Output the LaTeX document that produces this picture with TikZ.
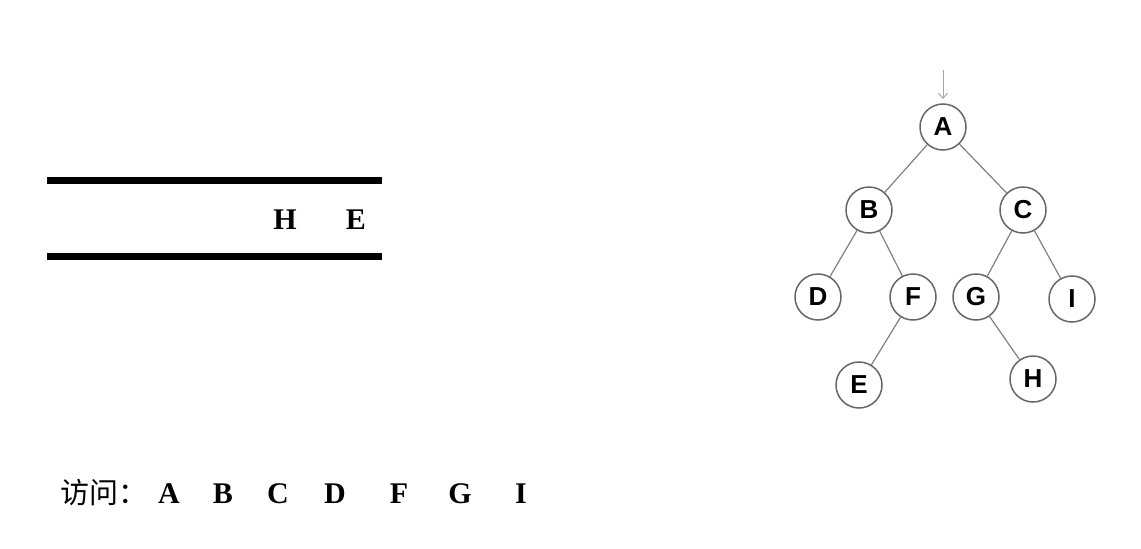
\documentclass[tikz,border=0pt]{standalone}
\usepackage{fontspec}
\usetikzlibrary{arrows.meta}
\setmainfont{Liberation Serif}
\newfontfamily\treefont{Liberation Sans}
\newfontfamily\cjk{Noto Sans CJK SC}
\begin{document}
\begin{tikzpicture}[x=1pt,y=-1pt,
  tnode/.style={circle,draw=black!60,line width=1.5pt,minimum size=46pt,inner sep=0pt,font=\treefont\bfseries\fontsize{26}{28}\selectfont},
  tedge/.style={draw=black!50,line width=1.2pt},
  bar/.style={line width=7pt},
  big/.style={font=\bfseries\fontsize{30}{32}\selectfont,anchor=base,inner sep=0pt}]
\useasboundingbox (0,0) rectangle (1141,549);
% stack
\draw[bar] (47,180) -- (382,180);
\draw[bar] (47,256.5) -- (382,256.5);
\node[big] (sh) at (285,229) {H};
\node[big] (se) at (356,229) {E};
% visit line
\node[anchor=base west,inner sep=0pt,font=\cjk\fontsize{29}{32}\selectfont] (v) at (60,503) {访问：};
\node[big] (va) at (169,503) {A};
\node[big] (vb) at (223,503) {B};
\node[big] (vc) at (278,503) {C};
\node[big] (vd) at (335,503) {D};
\node[big] (vf) at (399,503) {F};
\node[big] (vg) at (460,503) {G};
\node[big] (vi) at (521,503) {I};
% tree
\node[tnode] (A) at (943,127) {A};
\node[tnode] (B) at (869,210) {B};
\node[tnode] (C) at (1023,210) {C};
\node[tnode] (D) at (818,297) {D};
\node[tnode] (F) at (913,297) {F};
\node[tnode] (G) at (976,297) {G};
\node[tnode] (I) at (1072,299) {I};
\node[tnode] (E) at (859,385) {E};
\node[tnode] (H) at (1033,379) {H};
\coordinate (top) at (943,70);
\coordinate (tip) at (943,99);
\draw[black!35,line width=1pt,-{Straight Barb[length=5pt,width=9pt]}] (top) -- (tip);
\draw[tedge] (A) -- (B);
\draw[tedge] (A) -- (C);
\draw[tedge] (B) -- (D);
\draw[tedge] (B) -- (F);
\draw[tedge] (C) -- (G);
\draw[tedge] (C) -- (I);
\draw[tedge] (F) -- (E);
\draw[tedge] (G) -- (H);
\end{tikzpicture}
\end{document}
